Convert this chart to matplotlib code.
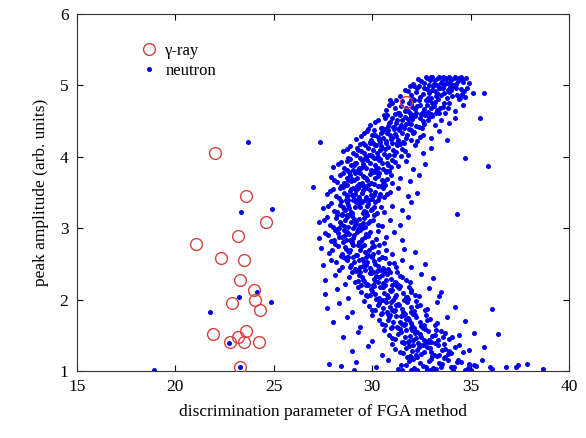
import matplotlib.pyplot as plt

plt.rcParams['font.family'] = ['Liberation Serif', 'DejaVu Serif']

# gamma-ray events (open circles)
gamma_x = [22.0, 23.6, 24.6, 23.2, 21.05, 22.35, 23.5, 23.3, 24.0, 24.05,
           22.9, 24.3, 21.9, 23.6, 23.2, 22.8, 23.5, 24.25, 23.3, 31.7]
gamma_y = [4.06, 3.45, 3.09, 2.89, 2.78, 2.58, 2.56, 2.28, 2.14, 2.0,
           1.95, 1.86, 1.52, 1.56, 1.48, 1.40, 1.41, 1.41, 1.05, 4.77]

# neutron events, read band by band from top (y ~5.1) to bottom (y ~1.0)
neutron_x = [
    32.1, 32.5, 32.8, 33.0, 33.2, 33.4, 33.5, 33.7, 33.9, 34.0, 34.2, 34.4, 34.6, 34.9, 32.9, 33.3, 33.8, 34.1, 34.5, 33.6,
    31.4, 31.8, 32.1, 32.3, 32.6, 32.8, 33.0, 33.1, 33.3, 33.5, 33.6, 33.8, 34.0, 34.1, 34.3, 34.5, 34.7, 35.1, 32.4, 32.9, 33.4, 33.9, 34.4, 31.9, 33.2, 34.8,
    30.7, 31.0, 31.3, 31.5, 31.7, 31.9, 32.0, 32.2, 32.4, 32.6, 32.8, 33.0, 33.2, 33.4, 33.6, 33.9, 34.2, 34.6, 31.2, 31.8, 32.3, 32.9, 33.3, 33.7, 32.5, 30.9,
    29.9, 30.3, 30.6, 30.8, 31.0, 31.2, 31.4, 31.6, 31.8, 32.0, 32.2, 32.4, 32.6, 32.9, 33.2, 33.5, 33.9, 34.2, 30.5, 31.1, 31.5, 32.1, 32.7, 30.9, 31.7, 33.0,
    29.2, 29.6, 29.9, 30.1, 30.3, 30.5, 30.7, 30.9, 31.1, 31.3, 31.5, 31.7, 32.0, 32.3, 32.6, 33.0, 33.4, 33.8, 29.8, 30.4, 30.8, 31.2, 31.6, 32.1, 30.0, 31.0,
    28.5, 28.9, 29.2, 29.4, 29.6, 29.8, 30.0, 30.2, 30.4, 30.6, 30.8, 31.0, 31.2, 31.5, 31.8, 32.2, 32.6, 33.0, 29.3, 29.9, 30.3, 30.7, 31.1, 29.7, 30.5, 31.4,
    28.0, 28.4, 28.7, 28.9, 29.1, 29.3, 29.5, 29.7, 29.9, 30.1, 30.3, 30.5, 30.7, 31.0, 31.3, 31.7, 32.1, 32.7, 28.8, 29.2, 29.6, 30.0, 30.4, 30.8, 29.4, 30.2,
    27.9, 28.2, 28.5, 28.7, 28.9, 29.1, 29.3, 29.5, 29.7, 29.9, 30.1, 30.3, 30.5, 30.7, 31.0, 31.4, 31.9, 32.4, 28.6, 29.0, 29.4, 29.8, 30.2, 30.6, 28.8, 29.6,
    27.7, 28.0, 28.3, 28.5, 28.7, 28.9, 29.1, 29.3, 29.5, 29.7, 29.9, 30.1, 30.3, 30.6, 30.9, 31.3, 31.8, 32.3, 28.4, 28.8, 29.2, 29.6, 30.0, 30.4, 29.0, 29.4,
    27.5, 27.9, 28.2, 28.4, 28.6, 28.8, 29.0, 29.2, 29.4, 29.6, 29.8, 30.0, 30.3, 30.6, 31.0, 31.5, 32.0, 28.5, 28.9, 29.3, 29.7, 30.1, 28.7, 29.5,
    27.3, 27.7, 28.0, 28.2, 28.4, 28.6, 28.8, 29.0, 29.2, 29.4, 29.6, 29.8, 30.1, 30.5, 30.9, 31.4, 31.8, 28.3, 28.7, 29.1, 29.5, 29.9,
    27.3, 27.6, 27.9, 28.1, 28.3, 28.5, 28.7, 28.9, 29.1, 29.3, 29.5, 29.7, 30.0, 30.3, 30.7, 31.1, 31.5, 28.2, 28.6, 29.0, 29.4, 29.8,
    27.4, 27.8, 28.1, 28.4, 28.6, 28.8, 29.0, 29.2, 29.4, 29.6, 29.8, 30.0, 30.3, 30.6, 31.0, 31.6, 32.2, 28.5, 28.9, 29.3, 29.7, 30.1,
    27.5, 27.9, 28.3, 28.6, 28.9, 29.1, 29.3, 29.5, 29.7, 29.9, 30.1, 30.3, 30.5, 30.8, 31.1, 31.5, 32.0, 32.7, 28.8, 29.2, 29.6, 30.0, 30.4, 29.4,
    27.6, 28.1, 28.6, 29.0, 29.3, 29.5, 29.7, 29.9, 30.1, 30.3, 30.5, 30.7, 30.9, 31.2, 31.5, 31.9, 32.5, 33.1, 29.4, 29.8, 30.2, 30.6, 31.0, 29.6,
    27.6, 28.2, 28.8, 29.3, 29.7, 30.0, 30.2, 30.4, 30.6, 30.8, 31.0, 31.2, 31.4, 31.7, 32.0, 32.4, 32.9, 33.5, 30.1, 30.5, 30.9, 31.3, 31.8, 29.9,
    27.7, 28.3, 29.0, 29.6, 30.0, 30.3, 30.5, 30.7, 30.9, 31.1, 31.3, 31.5, 31.7, 32.0, 32.3, 32.7, 33.3, 34.2, 30.4, 30.8, 31.2, 31.6, 32.1, 31.0,
    28.0, 28.7, 29.4, 30.0, 30.5, 30.8, 31.0, 31.2, 31.4, 31.6, 31.8, 32.0, 32.2, 32.5, 32.8, 33.2, 33.8, 34.7, 30.9, 31.3, 31.7, 32.1, 32.6, 31.5,
    28.5, 29.3, 30.0, 30.6, 31.0, 31.3, 31.5, 31.7, 31.9, 32.1, 32.3, 32.5, 32.7, 32.9, 33.2, 33.5, 33.9, 34.4, 35.2, 31.4, 31.8, 32.2, 32.6, 33.0, 33.6, 32.0,
    29.0, 29.8, 30.5, 31.0, 31.4, 31.7, 31.9, 32.1, 32.3, 32.5, 32.8, 33.0, 33.2, 33.4, 33.7, 34.0, 34.4, 34.9, 35.7, 31.6, 32.0, 32.4, 32.9, 33.3, 33.9, 32.6,
    29.2, 30.2, 30.8, 31.3, 31.7, 32.0, 32.3, 32.6, 32.9, 33.1, 33.4, 33.7, 34.0, 34.3, 34.7, 35.2, 35.6, 36.1, 31.5, 32.1, 32.8, 33.5, 34.1, 34.9,
    # stray points
    34.7, 35.9, 35.5, 35.7, 34.3, 36.1, 36.4, 27.35, 27.0, 33.4, 37.4, 37.85, 38.7, 18.9, 23.7, 23.33, 24.94, 24.16, 23.25, 24.84,
    21.76, 22.74, 23.3, 35.0, 36.0, 27.8, 28.4, 29.1, 36.8, 37.3,
]
neutron_y = [
    5.02, 5.06, 5.10, 5.12, 5.08, 5.12, 5.04, 5.11, 5.12, 5.07, 5.12, 5.10, 5.05, 5.03, 5.01, 5.00, 5.03, 5.01, 5.12, 5.12,
    4.85, 4.92, 4.81, 4.97, 4.88, 4.95, 4.83, 4.99, 4.90, 4.86, 4.96, 4.82, 4.93, 4.99, 4.87, 4.95, 4.84, 4.90, 4.99, 4.89, 4.97, 4.91, 4.81, 4.99, 4.92, 4.97,
    4.66, 4.75, 4.62, 4.78, 4.69, 4.61, 4.74, 4.67, 4.79, 4.63, 4.72, 4.68, 4.77, 4.61, 4.70, 4.75, 4.64, 4.72, 4.79, 4.64, 4.71, 4.79, 4.65, 4.61, 4.60, 4.80,
    4.45, 4.52, 4.58, 4.43, 4.55, 4.48, 4.59, 4.41, 4.53, 4.46, 4.57, 4.42, 4.50, 4.56, 4.44, 4.51, 4.47, 4.55, 4.41, 4.42, 4.51, 4.59, 4.58, 4.49, 4.46, 4.60,
    4.25, 4.33, 4.21, 4.38, 4.28, 4.35, 4.22, 4.31, 4.39, 4.24, 4.34, 4.27, 4.37, 4.22, 4.30, 4.26, 4.36, 4.23, 4.39, 4.21, 4.37, 4.29, 4.20, 4.33, 4.30, 4.26,
    4.08, 4.15, 4.02, 4.18, 4.06, 4.12, 4.01, 4.17, 4.09, 4.04, 4.14, 4.19, 4.07, 4.11, 4.03, 4.16, 4.05, 4.13, 4.10, 4.20, 4.00, 4.19, 4.02, 4.00, 4.13, 4.18,
    3.86, 3.93, 3.82, 3.97, 3.88, 3.81, 3.95, 3.84, 3.91, 3.99, 3.85, 3.92, 3.80, 3.96, 3.87, 3.94, 3.83, 3.90, 3.99, 3.91, 3.87, 3.80, 3.97, 3.89, 3.99, 3.83,
    3.72, 3.65, 3.78, 3.61, 3.74, 3.68, 3.79, 3.63, 3.70, 3.76, 3.62, 3.73, 3.67, 3.79, 3.64, 3.71, 3.66, 3.75, 3.60, 3.69, 3.77, 3.61, 3.79, 3.66, 3.68, 3.72,
    3.48, 3.55, 3.42, 3.58, 3.46, 3.52, 3.41, 3.57, 3.49, 3.44, 3.54, 3.47, 3.59, 3.43, 3.51, 3.56, 3.45, 3.50, 3.59, 3.40, 3.53, 3.59, 3.41, 3.48, 3.46, 3.40,
    3.28, 3.35, 3.22, 3.38, 3.26, 3.32, 3.21, 3.37, 3.29, 3.24, 3.34, 3.27, 3.39, 3.23, 3.31, 3.25, 3.36, 3.30, 3.20, 3.39, 3.22, 3.30, 3.40, 3.36,
    3.08, 3.15, 3.02, 3.18, 3.06, 3.12, 3.01, 3.17, 3.09, 3.04, 3.14, 3.07, 3.19, 3.03, 3.11, 3.05, 3.16, 3.00, 3.19, 3.13, 3.00, 3.10,
    2.86, 2.93, 2.82, 2.97, 2.88, 2.81, 2.95, 2.84, 2.91, 2.99, 2.85, 2.92, 2.80, 2.96, 2.87, 2.94, 2.83, 2.99, 2.90, 2.80, 2.97, 2.89,
    2.72, 2.65, 2.78, 2.61, 2.74, 2.68, 2.79, 2.63, 2.70, 2.76, 2.62, 2.73, 2.67, 2.79, 2.64, 2.71, 2.66, 2.60, 2.69, 2.77, 2.60, 2.75,
    2.48, 2.55, 2.42, 2.58, 2.46, 2.52, 2.41, 2.57, 2.49, 2.44, 2.54, 2.47, 2.59, 2.43, 2.51, 2.56, 2.45, 2.50, 2.59, 2.40, 2.53, 2.59, 2.41, 2.45,
    2.28, 2.35, 2.22, 2.38, 2.26, 2.32, 2.21, 2.37, 2.29, 2.24, 2.34, 2.27, 2.39, 2.23, 2.31, 2.25, 2.36, 2.30, 2.39, 2.20, 2.33, 2.40, 2.21, 2.26,
    2.08, 2.15, 2.02, 2.18, 2.06, 2.12, 2.01, 2.17, 2.09, 2.04, 2.14, 2.07, 2.19, 2.03, 2.11, 2.05, 2.16, 2.10, 2.19, 2.00, 2.13, 2.20, 2.01, 2.07,
    1.88, 1.95, 1.82, 1.98, 1.86, 1.92, 1.81, 1.97, 1.89, 1.84, 1.94, 1.87, 1.99, 1.83, 1.91, 1.85, 1.96, 1.90, 1.99, 1.80, 1.93, 2.00, 1.81, 1.86,
    1.68, 1.75, 1.62, 1.78, 1.66, 1.72, 1.61, 1.77, 1.69, 1.64, 1.74, 1.67, 1.79, 1.63, 1.71, 1.65, 1.76, 1.70, 1.79, 1.60, 1.73, 1.80, 1.61, 1.66,
    1.48, 1.55, 1.42, 1.58, 1.46, 1.52, 1.41, 1.57, 1.49, 1.44, 1.54, 1.47, 1.59, 1.43, 1.51, 1.56, 1.45, 1.50, 1.53, 1.59, 1.40, 1.53, 1.60, 1.41, 1.48, 1.60,
    1.28, 1.35, 1.22, 1.38, 1.26, 1.32, 1.21, 1.37, 1.29, 1.24, 1.34, 1.27, 1.39, 1.23, 1.31, 1.25, 1.36, 1.30, 1.33, 1.39, 1.20, 1.33, 1.40, 1.21, 1.28, 1.36,
    1.12, 1.05, 1.16, 1.03, 1.09, 1.18, 1.02, 1.07, 1.14, 1.04, 1.11, 1.19, 1.06, 1.13, 1.02, 1.08, 1.15, 1.03, 1.01, 1.17, 1.02, 1.06, 1.01, 1.10,
    # stray points
    3.99, 3.87, 4.54, 4.90, 3.20, 1.87, 1.52, 4.21, 3.58, 2.05, 1.08, 1.10, 1.03, 1.02, 4.21, 3.23, 3.27, 2.10, 2.03, 1.97,
    1.83, 1.39, 1.05, 1.02, 1.05, 1.10, 1.07, 1.02, 1.05, 1.06,
]

# extra neutron events in the dense core of the band
core_x = [
    32.35, 32.65, 32.95, 33.15, 33.35, 33.55, 33.75, 33.95, 34.15, 34.35, 34.55, 34.75, 33.05, 33.65, 34.25, 32.75,
    31.65, 31.95, 32.25, 32.45, 32.65, 32.85, 33.05, 33.25, 33.45, 33.65, 33.85, 34.05, 34.25, 34.45, 34.65, 32.15, 32.75, 33.35, 33.95, 34.55,
    30.85, 31.15, 31.45, 31.65, 31.85, 32.05, 32.25, 32.45, 32.65, 32.85, 33.05, 33.25, 33.45, 33.65, 33.85, 31.35, 31.95, 32.55, 33.15, 32.15,
    30.15, 30.45, 30.65, 30.85, 31.05, 31.25, 31.45, 31.65, 31.85, 32.05, 32.25, 32.45, 32.65, 32.85, 33.05, 30.75, 31.35, 31.95, 32.55, 31.15,
    29.45, 29.75, 29.95, 30.15, 30.35, 30.55, 30.75, 30.95, 31.15, 31.35, 31.55, 31.75, 31.95, 32.15, 32.45, 30.05, 30.65, 31.25, 31.85, 30.45,
    28.75, 29.05, 29.25, 29.45, 29.65, 29.85, 30.05, 30.25, 30.45, 30.65, 30.85, 31.05, 31.25, 31.45, 31.65, 29.55, 30.15, 30.75, 31.35, 29.95,
    28.25, 28.55, 28.75, 28.95, 29.15, 29.35, 29.55, 29.75, 29.95, 30.15, 30.35, 30.55, 30.75, 30.95, 31.15, 29.05, 29.65, 30.25, 30.85, 29.45,
    28.05, 28.35, 28.55, 28.75, 28.95, 29.15, 29.35, 29.55, 29.75, 29.95, 30.15, 30.35, 30.55, 30.75, 30.95, 28.85, 29.45, 30.05, 30.65, 29.25,
    27.85, 28.15, 28.35, 28.55, 28.75, 28.95, 29.15, 29.35, 29.55, 29.75, 29.95, 30.15, 30.35, 30.55, 30.75, 28.65, 29.25, 29.85, 30.45, 29.05,
    27.75, 28.05, 28.35, 28.55, 28.75, 28.95, 29.15, 29.35, 29.55, 29.75, 29.95, 30.15, 30.45, 28.45, 29.05, 29.65, 30.25, 28.85,
    27.55, 27.85, 28.15, 28.35, 28.55, 28.75, 28.95, 29.15, 29.35, 29.55, 29.75, 30.05, 28.45, 29.05, 29.65, 30.3,
    27.75, 28.05, 28.25, 28.45, 28.65, 28.85, 29.05, 29.25, 29.45, 29.65, 29.9, 30.2, 28.55, 29.35,
    27.95, 28.25, 28.45, 28.65, 28.85, 29.05, 29.25, 29.45, 29.65, 29.85, 30.05, 30.35, 30.7, 28.75, 29.35, 29.95,
    28.15, 28.45, 28.75, 28.95, 29.15, 29.35, 29.55, 29.75, 29.95, 30.15, 30.35, 30.55, 30.85, 31.2, 29.05, 29.65, 30.25, 30.65,
    28.85, 29.15, 29.35, 29.55, 29.75, 29.95, 30.15, 30.35, 30.55, 30.75, 30.95, 31.15, 31.4, 31.7, 29.45, 30.05, 30.65, 31.25,
    29.45, 29.75, 29.95, 30.15, 30.35, 30.55, 30.75, 30.95, 31.15, 31.35, 31.55, 31.75, 32.0, 32.2, 30.05, 30.65, 31.25, 31.85,
    29.85, 30.15, 30.35, 30.55, 30.75, 30.95, 31.15, 31.35, 31.55, 31.75, 31.95, 32.15, 32.45, 32.8, 30.45, 31.05, 31.65, 32.25,
    30.35, 30.65, 30.85, 31.05, 31.25, 31.45, 31.65, 31.85, 32.05, 32.25, 32.45, 32.65, 32.95, 33.3, 30.95, 31.55, 32.15, 32.75,
    30.85, 31.15, 31.45, 31.65, 31.85, 32.05, 32.25, 32.45, 32.65, 32.85, 33.05, 33.35, 33.7, 34.05, 31.55, 32.15, 32.75, 33.25,
    31.15, 31.55, 31.85, 32.05, 32.25, 32.45, 32.65, 32.95, 33.15, 33.35, 33.55, 33.85, 34.2, 34.6, 31.75, 32.35, 33.05, 33.65,
    31.45, 31.85, 32.15, 32.45, 32.75, 33.0, 33.25, 33.55, 33.85, 34.15, 34.5, 34.85, 35.3, 32.3, 32.95, 33.65, 34.35, 31.95,
]
core_y = [
    5.09, 5.04, 5.07, 5.02, 5.10, 5.06, 5.09, 5.04, 5.11, 5.06, 5.09, 5.11, 5.12, 5.01, 5.02, 5.12,
    4.94, 4.87, 4.91, 4.84, 4.96, 4.82, 4.93, 4.85, 4.97, 4.89, 4.94, 4.85, 4.96, 4.83, 4.92, 4.99, 4.80, 4.81, 4.98, 4.88,
    4.72, 4.68, 4.71, 4.64, 4.76, 4.70, 4.62, 4.73, 4.67, 4.63, 4.75, 4.62, 4.69, 4.76, 4.68, 4.61, 4.79, 4.60, 4.71, 4.80,
    4.49, 4.41, 4.54, 4.47, 4.42, 4.52, 4.45, 4.56, 4.48, 4.53, 4.43, 4.55, 4.46, 4.51, 4.57, 4.59, 4.40, 4.57, 4.40, 4.60,
    4.29, 4.36, 4.24, 4.31, 4.23, 4.27, 4.34, 4.25, 4.32, 4.37, 4.21, 4.30, 4.24, 4.35, 4.28, 4.20, 4.39, 4.20, 4.39, 4.33,
    4.11, 4.05, 4.13, 4.08, 4.16, 4.03, 4.10, 4.06, 4.15, 4.11, 4.02, 4.09, 4.16, 4.01, 4.08, 4.19, 4.17, 4.00, 4.19, 4.02,
    3.90, 3.84, 3.94, 3.88, 3.92, 3.85, 3.90, 3.96, 3.82, 3.88, 3.95, 3.83, 3.91, 3.86, 3.93, 3.81, 3.99, 3.98, 3.80, 3.85,
    3.68, 3.75, 3.64, 3.70, 3.66, 3.77, 3.62, 3.73, 3.67, 3.64, 3.71, 3.77, 3.62, 3.69, 3.74, 3.79, 3.60, 3.79, 3.61, 3.71,
    3.52, 3.45, 3.56, 3.49, 3.43, 3.55, 3.48, 3.44, 3.53, 3.57, 3.46, 3.51, 3.43, 3.56, 3.48, 3.40, 3.59, 3.40, 3.59, 3.57,
    3.31, 3.24, 3.33, 3.27, 3.36, 3.23, 3.30, 3.34, 3.21, 3.31, 3.25, 3.37, 3.29, 3.20, 3.39, 3.39, 3.21, 3.28,
    3.11, 3.05, 3.14, 3.09, 3.03, 3.16, 3.08, 3.04, 3.13, 3.07, 3.18, 3.12, 3.19, 3.00, 3.01, 3.05,
    2.90, 2.84, 2.93, 2.87, 2.83, 2.92, 2.86, 2.95, 2.82, 2.88, 2.94, 2.85, 2.98, 2.80,
    2.69, 2.75, 2.64, 2.71, 2.66, 2.77, 2.63, 2.73, 2.67, 2.70, 2.64, 2.77, 2.69, 2.60, 2.79, 2.61,
    2.52, 2.45, 2.55, 2.49, 2.43, 2.56, 2.47, 2.53, 2.42, 2.50, 2.57, 2.44, 2.51, 2.46, 2.59, 2.41, 2.40, 2.58,
    2.31, 2.25, 2.35, 2.28, 2.22, 2.37, 2.26, 2.32, 2.23, 2.36, 2.29, 2.24, 2.33, 2.27, 2.20, 2.39, 2.21, 2.39,
    2.11, 2.05, 2.15, 2.08, 2.02, 2.17, 2.06, 2.12, 2.03, 2.16, 2.09, 2.04, 2.13, 2.07, 2.20, 2.00, 2.19, 2.18,
    1.91, 1.85, 1.95, 1.88, 1.82, 1.97, 1.86, 1.92, 1.83, 1.96, 1.89, 1.84, 1.93, 1.87, 1.80, 1.99, 1.80, 1.98,
    1.71, 1.65, 1.75, 1.68, 1.62, 1.77, 1.66, 1.72, 1.63, 1.76, 1.69, 1.64, 1.73, 1.67, 1.60, 1.79, 1.60, 1.78,
    1.51, 1.45, 1.55, 1.48, 1.42, 1.57, 1.46, 1.52, 1.43, 1.56, 1.49, 1.44, 1.53, 1.47, 1.40, 1.59, 1.41, 1.58,
    1.31, 1.25, 1.35, 1.28, 1.22, 1.37, 1.26, 1.32, 1.23, 1.36, 1.29, 1.24, 1.33, 1.27, 1.20, 1.39, 1.21, 1.38,
    1.08, 1.14, 1.04, 1.11, 1.06, 1.17, 1.03, 1.10, 1.15, 1.05, 1.12, 1.04, 1.07, 1.19, 1.01, 1.18, 1.16, 1.01,
]

x_ticks = [15, 20, 25, 30, 35, 40]
y_ticks = [1, 2, 3, 4, 5, 6]

fig = plt.figure(figsize=(5.86, 4.38), dpi=100)
ax = fig.add_axes([0.131, 0.153, 0.84, 0.815])

ax.plot(neutron_x + core_x, neutron_y + core_y, 'o', color='#0000ee', markersize=3.6,
        markeredgewidth=0, label='neutron', zorder=2)
ax.plot(gamma_x, gamma_y, 'o', markerfacecolor='none', markeredgecolor='#d94040',
        markersize=8.5, markeredgewidth=1.0, label='γ-ray', zorder=3)

ax.set_xlim(15, 40)
ax.set_ylim(1, 6)
ax.set_xticks(x_ticks)
ax.set_yticks(y_ticks)
ax.tick_params(direction='in', top=True, right=True, labelsize=12.5, length=4,
               width=0.8, pad=6)
for s in ax.spines.values():
    s.set_linewidth(0.8)
    s.set_color('#333333')

ax.set_xlabel('discrimination parameter of FGA method', fontsize=12.5, labelpad=6)
ax.set_ylabel('peak amplitude (arb. units)', fontsize=12.5, labelpad=8)

h, l = ax.get_legend_handles_labels()
ax.legend(h[::-1], l[::-1], loc='upper left', bbox_to_anchor=(0.095, 0.96),
          frameon=False, fontsize=12, handletextpad=0.4, labelspacing=0.2,
          handlelength=1.2)

fig.savefig('out.png', dpi=100)
